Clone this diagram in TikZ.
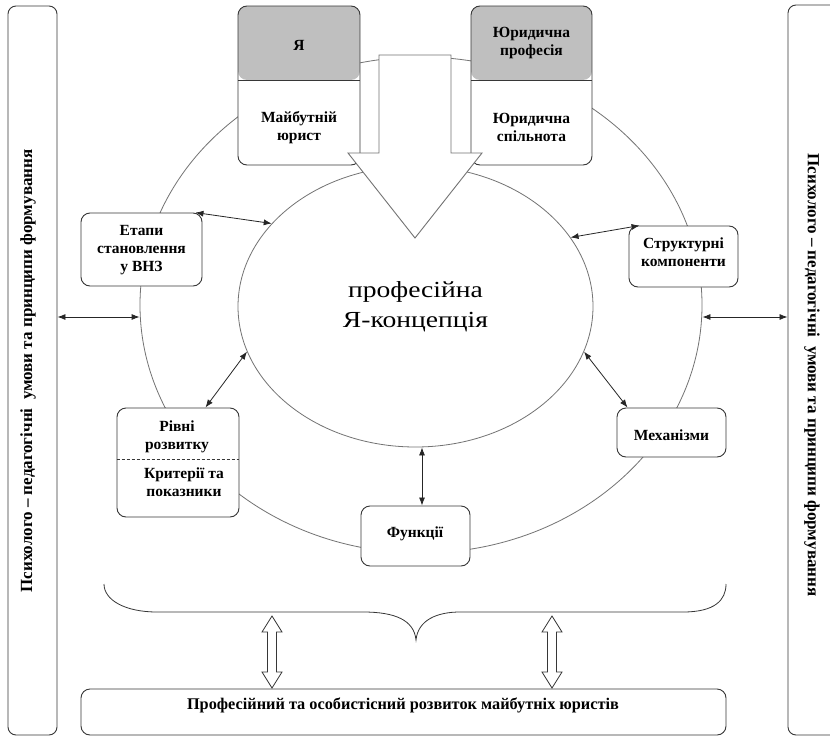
\documentclass[tikz,border=0pt]{standalone}
\usepackage{fontspec}
\setmainfont{Liberation Serif}
\newfontfamily\widefont[FakeStretch=1.2]{Liberation Serif}
\usetikzlibrary{shapes.geometric,arrows.meta,calc}
\definecolor{hdrgrey}{RGB}{191,191,191}
\definecolor{linegrey}{RGB}{115,115,115}
\definecolor{boxline}{RGB}{55,55,55}
\begin{document}
\begin{tikzpicture}[x=1pt,y=-1pt,
  ring/.style={ellipse,draw=linegrey,line width=0.8pt,inner sep=0pt},
  card/.style={draw=boxline,fill=white,rounded corners=9pt,line width=0.9pt,inner sep=0pt},
  hdr/.style={path picture={
      \fill[hdrgrey] (path picture bounding box.north west) rectangle ([yshift=-74pt]path picture bounding box.north east);
      \draw[boxline,line width=0.9pt] ([yshift=-74pt]path picture bounding box.north west) -- ([yshift=-74pt]path picture bounding box.north east);}},
  lbl/.style={font=\bfseries\fontsize{15.5}{18}\selectfont,align=center,inner sep=0pt},
  stripfont/.style={font=\bfseries\fontsize{17}{20}\selectfont,inner sep=0pt},
  biarrow/.style={{Latex[length=8pt,width=6pt]}-{Latex[length=8pt,width=6pt]},line width=0.8pt,draw=black!85},
  hollow/.style={draw=boxline,fill=white,line width=0.8pt,line join=miter},
  bigarrow/.style={draw=linegrey,fill=white,line width=0.9pt,line join=miter},
  bracestyle/.style={draw=boxline,line width=0.8pt}
  ]
\useasboundingbox (0,0) rectangle (830,736);
\clip (0,0) rectangle (830,736);
\fill[white] (0,0) rectangle (830,736);

% side strips
\node[card, rounded corners=8pt, minimum width=49pt, minimum height=729pt] (lstrip) at (32.5,370.5) {};
\node[card, rounded corners=8pt, minimum width=60pt, minimum height=730pt] (rstrip) at (818,370) {};
\node[stripfont, rotate=90] (ltext) at (28,371) {Психолого – педагогічні~ умови та принципи формування};
\node[stripfont, rotate=-90] (rtext) at (812,375) {Психолого – педагогічні~ умови та принципи формування};

% rings
\node[ring, minimum width=562pt, minimum height=496pt] (outer) at (421,305) {};
\node[ring, minimum width=355pt, minimum height=281pt, font=\widefont\fontsize{23}{30}\selectfont, align=center] (inner) at (415.5,306.5) {професійна\\Я-концепція};

% boxes around
\node[card, minimum width=121pt, minimum height=73pt] (etapy) at (141.5,249.5) {};
\node[lbl] (etapyt) at (141.5,250.5) {Етапи\\становлення\\у ВНЗ};
\node[card, minimum width=109pt, minimum height=61pt] (struct) at (683.5,256.5) {};
\node[lbl] (structt) at (683.5,252.5) {Структурні\\компоненти};
\node[card, minimum width=109pt, minimum height=49pt] (mech) at (671.5,432.5) {};
\node[lbl] (mecht) at (671.5,435.5) {Механізми};
\node[card, minimum width=122pt, minimum height=109pt] (rivni) at (178,462.5) {};
\draw[boxline, line width=0.7pt, dash pattern=on 3pt off 2pt] ($(rivni.west)+(0,-3.5)$) -- ($(rivni.east)+(0,-3.5)$);
\node[lbl] (rivnit1) at (177,436.5) {Рівні\\розвитку};
\node[lbl] (rivnit2) at (184,481.7) {Критерії та\\показники};
\node[card, minimum width=109pt, minimum height=60pt] (funk) at (415.5,536) {};
\node[lbl] (funkt) at (415,534) {Функції};

% top boxes
\node[card, hdr, minimum width=122pt, minimum height=159pt] (ya) at (299,85.5) {};
\node[lbl] (yat) at (299,45.5) {Я};
\node[lbl] (yab) at (299,127.5) {Майбутній\\юрист};
\node[card, hdr, minimum width=121pt, minimum height=159pt] (jur) at (531.5,85.5) {};
\node[lbl] (jurt) at (531.5,43) {Юридична\\професія};
\node[lbl] (jurb) at (531.5,127.5) {Юридична\\спільнота};

% connectors
\draw[biarrow] ([xshift=-7pt]etapy.north east) -- (inner.150);
\draw[biarrow] ([yshift=-12pt]outer.west) -- ([yshift=-12pt]outer.west -| lstrip.east);
\draw[biarrow] ([yshift=-12pt]outer.east) -- ([yshift=-12pt]outer.east -| rstrip.west);
\draw[biarrow] (inner.24) -- ([xshift=11pt]struct.north west);
\draw[biarrow] (inner.-15) -- ([xshift=11pt]mech.north west);
\draw[biarrow] (inner.195) -- ([xshift=-34pt]rivni.north east);
\draw[biarrow] ([xshift=6.5pt]funk.north) -- ([xshift=6.5pt]funk.north |- inner.south);

% big down arrow
\draw[bigarrow] (379,55) -- (451,55) -- (451,153) -- (482,153) -- (415,238) -- (348,153) -- (379,153) -- cycle;

% brace
\draw[bracestyle] (104,584) .. controls (104,600) and (125,612) .. (157,612) -- (363,612)
  .. controls (395,612) and (414,620) .. (416,640)
  .. controls (418,620) and (437,612) .. (460,612) -- (683,612)
  .. controls (715,612) and (726,600) .. (726,584);

% bottom box
\node[card, minimum width=645pt, minimum height=46pt] (bottom) at (403.5,712) {};
\node[stripfont, font=\bfseries\fontsize{16.3}{20}\selectfont] (btext) at (403,705) {Професійний та особистісний розвиток майбутніх юристів};

% hollow double arrows
\coordinate (hl) at (272,616);
\coordinate (hr) at (552,616);
\foreach \c in {hl,hr}{
  \draw[hollow] (\c) -- ++(10,16) -- ++(-5.5,0) -- ++(0,40) -- ++(5.5,0) -- ++(-10,16) -- ++(-10,-16) -- ++(5.5,0) -- ++(0,-40) -- ++(-5.5,0) -- cycle;
}
\end{tikzpicture}
\end{document}
